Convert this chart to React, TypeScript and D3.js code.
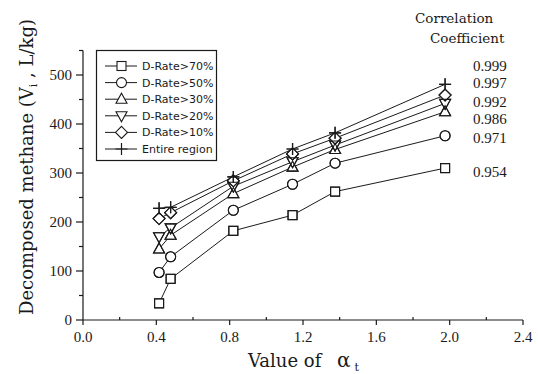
import React from "react";
import * as d3 from "d3";

// values
const alphaT = [0.415, 0.478, 0.82, 1.143, 1.375, 1.975];
const seriesNames = ["D-Rate>70%", "D-Rate>50%", "D-Rate>30%", "D-Rate>20%", "D-Rate>10%", "Entire region"];
const rate70 = [34, 84, 182, 214, 262, 310];
const rate50 = [97, 129, 224, 277, 320, 376];
const rate30 = [145, 173, 258, 312, 348, 425];
const rate20 = [170, 188, 273, 323, 357, 442];
const rate10 = [207, 219, 284, 339, 371, 459];
const entire = [228, 230, 292, 349, 382, 481];
const correlation = ["0.999", "0.997", "0.992", "0.986", "0.971", "0.954"];
const xTicks = [0, 0.4, 0.8, 1.2, 1.6, 2.0, 2.4];
const yTicks = [0, 100, 200, 300, 400, 500];

const W = 538;
const H = 374;
const x = d3.scaleLinear().domain([0, 2.4]).range([83, 523]);
const y = d3.scaleLinear().domain([0, 550]).range([320, 50.5]);

// label heights in data units (where the coefficients sit on the right)
const corrAt = [519, 483, 444, 410, 371, 303];

const ink = "#1a1a1a";
const serif = "'Liberation Serif', 'Times New Roman', serif";
const wideSerif = "'DejaVu Serif', serif";

type Shape = "square" | "circle" | "up" | "down" | "diamond" | "plus";
const shapes: Shape[] = ["square", "circle", "up", "down", "diamond", "plus"];

const Marker = ({ shape, cx, cy, fill }: { shape: Shape; cx: number; cy: number; fill: string }) => {
  const p = { fill, stroke: ink, strokeWidth: 1.1 };
  switch (shape) {
    case "square":
      return <rect x={cx - 4.5} y={cy - 4.5} width={9} height={9} {...p} />;
    case "circle":
      return <circle cx={cx} cy={cy} r={5} {...p} />;
    case "up":
      return <path d={`M${cx},${cy - 6}L${cx + 5.5},${cy + 4}L${cx - 5.5},${cy + 4}Z`} {...p} />;
    case "down":
      return <path d={`M${cx},${cy + 6}L${cx + 5.5},${cy - 4}L${cx - 5.5},${cy - 4}Z`} {...p} />;
    case "diamond":
      return <path d={`M${cx},${cy - 6}L${cx + 6},${cy}L${cx},${cy + 6}L${cx - 6},${cy}Z`} {...p} />;
    default:
      return <path d={`M${cx - 6},${cy}H${cx + 6}M${cx},${cy - 6}V${cy + 6}`} fill="none" stroke={ink} strokeWidth={1.2} />;
  }
};

export default function App() {
  const series = [rate70, rate50, rate30, rate20, rate10, entire];
  const line = d3
    .line<number>()
    .x((_, i) => x(alphaT[i]))
    .y((d) => y(d));
  const xMinor = d3.range(0.2, 2.4, 0.4);
  const yMinor = d3.range(50, 551, 100);

  return (
    <svg width={W} height={H} style={{ position: "absolute", left: 0, top: 0, background: "#fff" }}>
      {/* axes */}
      <g stroke={ink} strokeWidth={1.2} fill="none">
        <line x1={x(0)} x2={x(2.4)} y1={y(0)} y2={y(0)} />
        <line x1={x(0)} x2={x(0)} y1={y(0)} y2={y(550)} />
        {xTicks.map((t) => (
          <line key={"xt" + t} x1={x(t)} x2={x(t)} y1={y(0)} y2={y(0) + 5} />
        ))}
        {xMinor.map((t) => (
          <line key={"xm" + t} x1={x(t)} x2={x(t)} y1={y(0)} y2={y(0) - 3} />
        ))}
        {yTicks.map((t) => (
          <line key={"yt" + t} x1={x(0) - 7} x2={x(0)} y1={y(t)} y2={y(t)} />
        ))}
        {yMinor.map((t) => (
          <line key={"ym" + t} x1={x(0) - 4} x2={x(0)} y1={y(t)} y2={y(t)} />
        ))}
      </g>
      <g fontFamily={serif} fontSize={15} fill={ink}>
        {xTicks.map((t) => (
          <text key={"xl" + t} x={x(t)} y={y(0) + 22} textAnchor="middle">
            {d3.format(".1f")(t)}
          </text>
        ))}
        {yTicks.map((t) => (
          <text key={"yl" + t} x={x(0) - 11} y={y(t) + 5} textAnchor="end">
            {t}
          </text>
        ))}
      </g>

      {/* axis titles */}
      <text x={248} y={367} fontFamily={wideSerif} fontSize={18} fill={ink}>
        Value of<tspan x={337} fontSize={20}>α</tspan>
        <tspan fontSize={11} dx={4} dy={4}>t</tspan>
      </text>
      <text
        transform={`translate(33,${167}) rotate(-90)`}
        textAnchor="middle"
        fontFamily={wideSerif}
        fontSize={18}
        fill={ink}
      >
        Decomposed methane (V<tspan fontSize={11} dy={4}>i</tspan>
        <tspan dy={-4}> , L/kg)</tspan>
      </text>

      {/* series lines */}
      <g fill="none" stroke={ink} strokeWidth={1}>
        {series.map((s, k) => (
          <path key={"l" + k} d={line(s) ?? ""} />
        ))}
      </g>
      {/* markers: white knock-out first, then outlines on top */}
      {series.map((s, k) =>
        s.map((v, i) => <Marker key={`w${k}-${i}`} shape={shapes[k]} cx={x(alphaT[i])} cy={y(v)} fill="#fff" />)
      )}
      {series.map((s, k) =>
        s.map((v, i) => <Marker key={`o${k}-${i}`} shape={shapes[k]} cx={x(alphaT[i])} cy={y(v)} fill="none" />)
      )}

      {/* correlation coefficients */}
      <g fontFamily={wideSerif} fontSize={13.5} fill={ink}>
        <text x={415} y={23}>Correlation</text>
        <text x={430} y={43}>Coefficient</text>
      </g>
      <g fontFamily={serif} fontSize={15} fill={ink}>
        {correlation.map((c, i) => (
          <text key={c + i} x={473} y={y(corrAt[i]) + 5}>
            {c}
          </text>
        ))}
      </g>

      {/* legend */}
      <rect x={96.5} y={50.5} width={120} height={110} fill="#fff" stroke={ink} strokeWidth={1.2} />
      {seriesNames.map((n, k) => {
        const ly = 66 + k * 16.6;
        return (
          <g key={n}>
            <line x1={105} x2={137} y1={ly} y2={ly} stroke={ink} strokeWidth={1} />
            <Marker shape={shapes[k]} cx={121.5} cy={ly} fill="#fff" />
            <text x={142} y={ly + 4} fontFamily="'DejaVu Sans', sans-serif" fontSize={11} fill={ink}>
              {n}
            </text>
          </g>
        );
      })}
    </svg>
  );
}
